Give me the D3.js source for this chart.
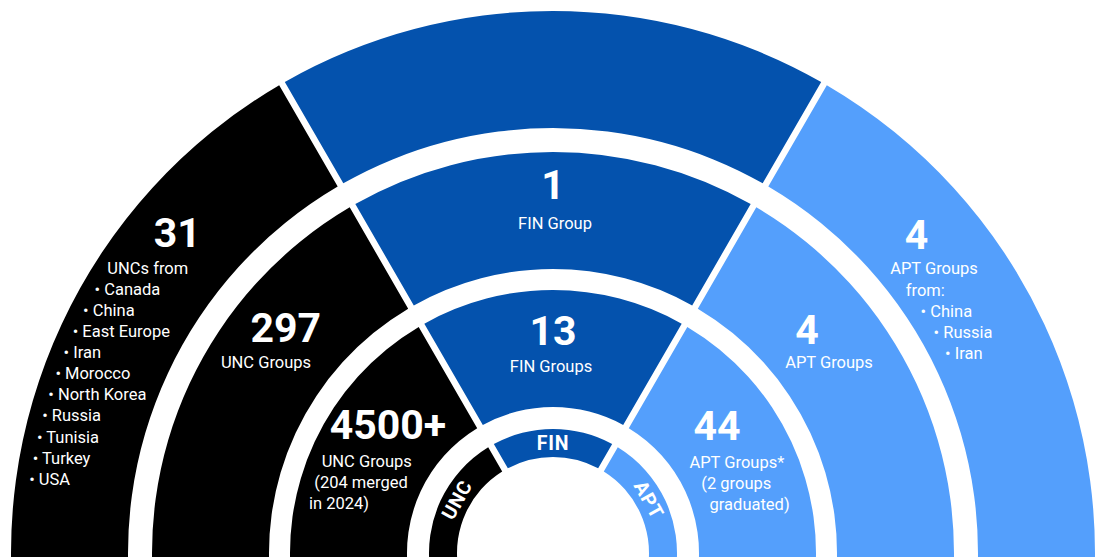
<!DOCTYPE html>
<html>
<head>
<meta charset="utf-8">
<script src="https://cdn.jsdelivr.net/npm/d3@7"></script>
<style>
  html, body { margin: 0; padding: 0; background: #ffffff; }
  svg { display: block; }
  text { font-family: Roboto, "Noto Sans", sans-serif; fill: #ffffff; }
</style>
</head>
<body>
<div id="chart"></div>
<script>
// categories around the half ring, left to right
const categories = ["UNC", "FIN", "APT"];

// outer ring
const outerCounts = ["31", "", "4"];
const outerLabels = [["UNCs from"], [], ["APT Groups"]];
const outerOrigins = [
    ["Canada", "China", "East Europe", "Iran", "Morocco", "North Korea", "Russia", "Tunisia", "Turkey", "USA"],
    [],
    ["China", "Russia", "Iran"]
];

// middle ring
const middleCounts = ["297", "1", "4"];
const middleLabels = [["UNC Groups"], ["FIN Group"], ["APT Groups"]];

// inner ring
const innerCounts = ["4500+", "13", "44"];
const innerLabels = [["UNC Groups", "(204 merged", "in 2024)"], ["FIN Groups"], ["APT Groups*", "(2 groups", "graduated)"]];

const width = 1097, height = 557;
const cx = 553, cy = 553;

const color = d3.scaleOrdinal()
    .domain(categories)
    .range(["#000000", "#0452ad", "#549ffc"]);

// each category takes one third of the half circle
const bounds = [-100, -30, 30, 100];
const angle = d3.scaleLinear().domain([0, 1]).range([0, Math.PI / 180]);

const rings = [
    { inner: 425, outer: 542 },
    { inner: 284, outer: 401 },
    { inner: 146, outer: 263 },
    { inner: 96, outer: 124 }
];

const svg = d3.select("#chart").append("svg")
    .attr("width", width)
    .attr("height", height)
    .attr("viewBox", [0, 0, width, height]);

const g = svg.append("g")
    .attr("transform", `translate(${cx},${cy})`);

const arc = d3.arc()
    .padRadius(100)
    .padAngle(0.065);

const segments = [];
rings.forEach((r, ri) => {
    categories.forEach((c, ci) => {
        segments.push({
            ring: ri,
            cat: c,
            innerRadius: r.inner,
            outerRadius: r.outer,
            startAngle: angle(bounds[ci]),
            endAngle: angle(bounds[ci + 1])
        });
    });
});

g.selectAll("path.seg")
    .data(segments)
    .join("path")
    .attr("class", "seg")
    .attr("d", arc)
    .attr("fill", d => color(d.cat));

// polar helper, angle in degrees from vertical
function polar(deg, r) {
    const a = deg * Math.PI / 180;
    return [r * Math.sin(a), -r * Math.cos(a)];
}

const textSize = 16.5, lineStep = 21.1;

// blocks of text: a big number, centered lines, then lines left aligned along a circle
const blocks = [
    { count: outerCounts[0], numPos: [-49.5, 494], numSize: 41, centered: [], stair: outerLabels[0].concat(outerOrigins[0].map(d => "\u2022 " + d)), stairY: -285, stairR: 529, side: -1 },
    { count: outerCounts[2], numPos: [48.8, 483], numSize: 41, centered: outerLabels[2], centeredPos: [934 - cx, 268 - cy], stair: ["from:"].concat(outerOrigins[2].map(d => "\u2022 " + d)), stairY: -263, stairR: 440, side: 1 },
    { count: middleCounts[0], numPos: [-49.8, 350], numSize: 41, centered: middleLabels[0], centeredPos: [266 - cx, 362 - cy], stair: [] },
    { count: middleCounts[1], numPos: [0, 369], numSize: 41, centered: middleLabels[1], centeredPos: [555 - cx, 223 - cy], stair: [] },
    { count: middleCounts[2], numPos: [48.7, 338], numSize: 41, centered: middleLabels[2], centeredPos: [829 - cx, 362 - cy], stair: [] },
    { count: innerCounts[0], numPos: [-52.2, 209], numSize: 41, centered: [], stair: innerLabels[0], stairY: -92, stairR: 249, side: -1 },
    { count: innerCounts[1], numPos: [0, 223], numSize: 41, centered: innerLabels[1], centeredPos: [551 - cx, 366 - cy], stair: [] },
    { count: innerCounts[2], numPos: [52, 208], numSize: 41, centered: [], stair: innerLabels[2], stairY: -91, stairR: 164, side: 1 }
];

blocks.forEach(b => {
    const p = polar(b.numPos[0], b.numPos[1]);
    g.append("text")
        .attr("x", p[0])
        .attr("y", p[1])
        .attr("dy", "0.355em")
        .attr("text-anchor", "middle")
        .style("font-size", b.numSize + "px")
        .style("font-weight", 700)
        .text(b.count);

    b.centered.forEach((t, i) => {
        g.append("text")
            .attr("x", b.centeredPos[0])
            .attr("y", b.centeredPos[1] + i * lineStep)
            .attr("dy", "0.35em")
            .attr("text-anchor", "middle")
            .style("font-size", textSize + "px")
            .text(t);
    });

    b.stair.forEach((t, i) => {
        const y = b.stairY + i * lineStep;
        const x = b.side * Math.sqrt(b.stairR * b.stairR - y * y);
        g.append("text")
            .attr("x", x)
            .attr("y", y)
            .attr("dy", "0.35em")
            .attr("text-anchor", "start")
            .style("font-size", textSize + "px")
            .text(t);
    });
});

// category names on the innermost ring
const mid = (rings[3].inner + rings[3].outer) / 2;
g.selectAll("text.cat")
    .data(categories)
    .join("text")
    .attr("class", "cat")
    .attr("transform", (d, i) => {
        const deg = (bounds[i] + bounds[i + 1]) / 2 + (i === 0 ? 4 : i === 2 ? -4 : 0);
        const p = polar(deg, mid);
        return `translate(${p[0]},${p[1]}) rotate(${deg})`;
    })
    .attr("dy", "0.36em")
    .attr("text-anchor", "middle")
    .style("font-size", "19.5px")
    .style("font-weight", 700)
    .style("letter-spacing", "0.8px")
    .text(d => d);
</script>
</body>
</html>
